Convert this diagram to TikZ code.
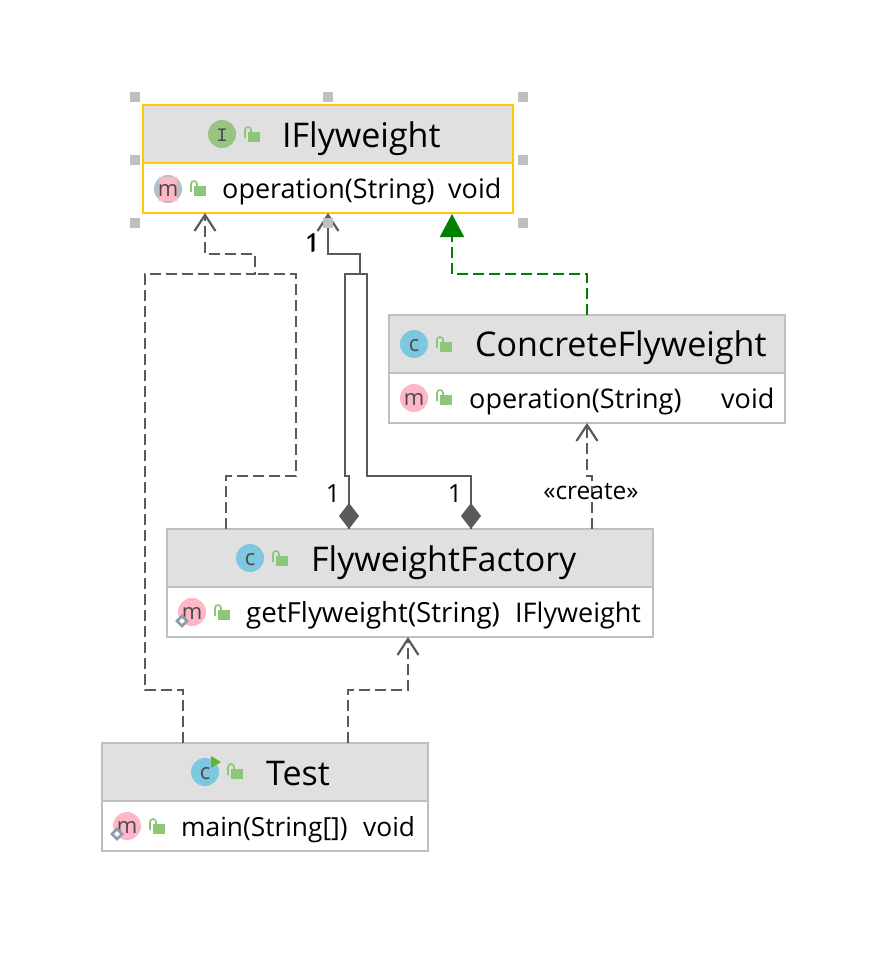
\documentclass[tikz,border=0pt]{standalone}
\usepackage{fontspec}
\setmainfont{Open Sans}
\usetikzlibrary{arrows.meta,calc}
\definecolor{hdr}{HTML}{E0E0E0}
\definecolor{edge}{HTML}{BFBFBF}
\definecolor{sel}{HTML}{FFC800}
\definecolor{conn}{HTML}{5A5A5A}
\definecolor{lockg}{HTML}{8CC678}
\definecolor{classc}{HTML}{7EC7E0}
\definecolor{ifacec}{HTML}{97C480}
\definecolor{methc}{HTML}{FFB6C6}
\definecolor{inkc}{HTML}{4A4A4A}
\definecolor{statc}{HTML}{8F9BA8}
\definecolor{realc}{HTML}{008000}
\definecolor{playc}{HTML}{5DB531}
\definecolor{absc}{HTML}{B4BEC6}
\tikzset{
 x=1pt,y=-1pt,
 boxframe/.style={draw=edge,line width=2pt,anchor=north west,inner sep=0,outer sep=0,minimum height=108pt},
 boxhead/.style={fill=hdr,draw=none,anchor=north west,inner sep=0,outer sep=0,minimum height=58pt},
 title/.style={anchor=base west,inner sep=0,font=\fontsize{34}{36}\selectfont,text=black},
 member/.style={anchor=base west,inner sep=0,font=\fontsize{27}{29}\selectfont,text=black},
 mult/.style={inner sep=0,font=\fontsize{25}{27}\selectfont,text=black},
 assoc/.style={draw=conn,line width=2.2pt},
 dep/.style={draw=conn,line width=2.2pt,dash pattern=on 11pt off 5pt},
 real/.style={draw=realc,line width=2.2pt,dash pattern=on 11pt off 5pt},
 opentip/.style={-{Straight Barb[length=16pt,width=21pt,line width=2.2pt]}},
 handle/.style={fill=edge,draw=none,minimum size=10pt,inner sep=0,outer sep=0},
 iconletter/.style={inner sep=0,anchor=base,text=inkc,font=\fontsize{22}{22}\selectfont},
}
\newcommand{\lockicon}[2]{%
 \fill[lockg] (#1-6,#2-5) rectangle (#1+6,#2+5);
 \draw[lockg,line width=1.6pt] (#1-9,#2+1) -- (#1-9,#2-7) arc[start angle=180,end angle=0,x radius=3,y radius=-3] -- (#1-3,#2-5);
}
\newcommand{\iconcirc}[4]{% x y colour letter
 \fill[#3] (#1,#2) circle[radius=14];
 \node[iconletter] at (#1,#2+7) {#4};
}
\newcommand{\staticmark}[2]{%
 \draw[statc,line width=2.5pt,fill=white] (#1,#2-5) -- (#1+5,#2) -- (#1,#2+5) -- (#1-5,#2) -- cycle;
}
\begin{document}
\begin{tikzpicture}
\useasboundingbox (0,0) rectangle (882,958);
\fill[white] (0,0) rectangle (882,958);
% box headers
\node[boxhead,minimum width=370pt] (ifaceH) at (143,105) {};
\node[boxhead,minimum width=396pt] (concH) at (389,315) {};
\node[boxhead,minimum width=486pt] (factH) at (167,529) {};
\node[boxhead,minimum width=326pt] (testH) at (102,743) {};
% frames
\node[boxframe,minimum width=370pt,draw=sel] (iface) at (143,105) {};
\draw[sel,line width=2pt] (ifaceH.south west) -- (ifaceH.south east);
\node[boxframe,minimum width=396pt] (conc) at (389,315) {};
\draw[edge,line width=2pt] (concH.south west) -- (concH.south east);
\node[boxframe,minimum width=486pt] (fact) at (167,529) {};
\draw[edge,line width=2pt] (factH.south west) -- (factH.south east);
\node[boxframe,minimum width=326pt] (test) at (102,743) {};
\draw[edge,line width=2pt] (testH.south west) -- (testH.south east);
% connectors
\draw[dep,opentip] ([xshift=81pt]test.north west) -- (183,690) -- (145,690) -- (145,274) -- (255,274) -- (255,254) -- (205,254) -- ([xshift=62pt]iface.south west);
\draw[dep] ([xshift=59pt]fact.north west) -- (226,476) -- (296,476) -- (296,274) -- (255,274);
\draw[assoc,opentip] ([xshift=182pt]fact.north west) -- (349,476) -- (345,476) -- (345,274) -- (360,274) -- (360,254) -- (328,254) -- ([xshift=185pt]iface.south west);
\draw[assoc] ([xshift=304pt]fact.north west) -- (471,476) -- (367,476) -- (367,274) -- (360,274);
\fill[conn] ([xshift=182pt]fact.north west) -- ++(10,-13) -- ++(-10,-13) -- ++(-10,13) -- cycle;
\fill[conn] ([xshift=304pt]fact.north west) -- ++(10,-13) -- ++(-10,-13) -- ++(-10,13) -- cycle;
\draw[real,-{Triangle[length=23pt,width=24pt,fill=realc]}] ([xshift=198pt]conc.north west) -- (587,274) -- (452,274) -- ([xshift=309pt,yshift=-1pt]iface.south west);
\draw[dep,opentip] ([xshift=425pt]fact.north west) -- (592,476) -- (587,476) -- ([xshift=198pt]conc.south west);
\draw[dep,opentip] ([xshift=246pt]test.north west) -- (348,690) -- (408,690) -- ([xshift=241pt]fact.south west);
% titles and members
\node[title] (t1) at (282,147) {IFlyweight};
\node[member] (m1) at (222,198) {operation(String)};
\node[member] (r1) at (448,198) {void};
\node[title] (t2) at (475,356) {ConcreteFlyweight};
\node[member] (m2) at (469,408) {operation(String)};
\node[member] (r2) at (721,408) {void};
\node[title] (t3) at (311,571) {FlyweightFactory};
\node[member,font=\fontsize{27.7}{29}\selectfont] (m3) at (246,622) {getFlyweight(String)};
\node[member] (r3) at (515,622) {IFlyweight};
\node[title] (t4) at (266,785) {Test};
\node[member,font=\fontsize{26.3}{29}\selectfont] (m4) at (181,836) {main(String[])};
\node[member,font=\fontsize{26.3}{29}\selectfont] (r4) at (363,836) {void};
% labels
\node[mult] (n1) at (312,244) {1};
\node[mult] (n2) at (313,243) {1};
\node[mult] (n3) at (333,494) {1};
\node[mult] (n4) at (455,494) {1};
\node[inner sep=0,font=\fontsize{24.5}{26}\selectfont] (cr) at (591,492) {«create»};
% icons
\iconcirc{222}{134}{ifacec}{\fontspec{Liberation Mono}\fontsize{19}{19}\selectfont I}
\lockicon{254}{137}
\fill[absc] (168,189) circle[radius=14];
\fill[methc] (159,177) rectangle (177,201);
\node[iconletter] (i1) at (168,196) {m};
\lockicon{200}{191}
\iconcirc{414}{344}{classc}{c}
\lockicon{446}{347}
\iconcirc{414}{398}{methc}{m}
\lockicon{446}{400}
\iconcirc{250}{558}{classc}{c}
\lockicon{282}{561}
\iconcirc{192}{612}{methc}{m}
\staticmark{182}{621}
\lockicon{224}{615}
\iconcirc{205}{772}{classc}{c}
\fill[playc] (211,756) -- (221,762) -- (211,768) -- cycle;
\lockicon{237}{774}
\iconcirc{127}{826}{methc}{m}
\staticmark{117}{834}
\lockicon{159}{829}
% selection handles
\node[handle] (h1) at (135,97) {};
\node[handle] (h2) at (328,97) {};
\node[handle] (h3) at (523,97) {};
\node[handle] (h4) at (135,160) {};
\node[handle] (h5) at (523,160) {};
\node[handle] (h6) at (135,223) {};
\node[handle] (h7) at (328,223) {};
\node[handle] (h8) at (523,223) {};
\end{tikzpicture}
\end{document}
